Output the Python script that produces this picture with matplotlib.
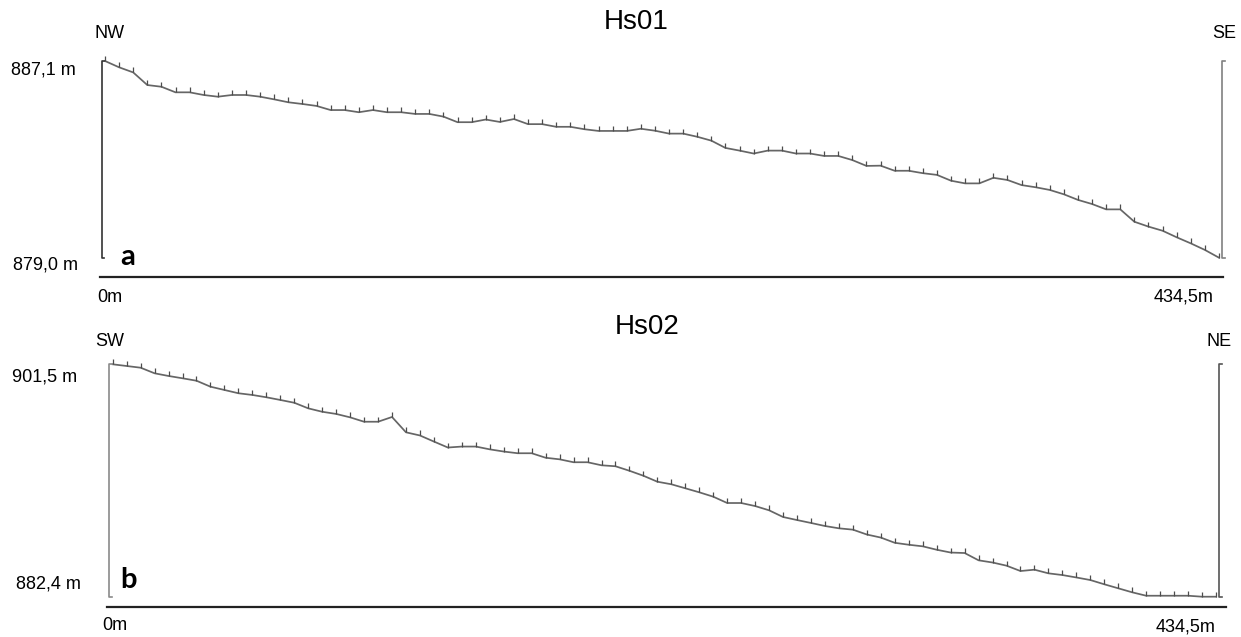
import numpy as np
import matplotlib
matplotlib.use("Agg")
import matplotlib.pyplot as plt
from matplotlib.markers import TICKUP

plt.rcParams['font.family'] = ['Liberation Sans', 'DejaVu Sans']

# stations every 5.5 m along both transects (80 points, 0 - 434.5 m)
step = 5.5
dist = np.arange(80) * step

# Hs01 profile, NW -> SE (elevation in m)
elev_a = [887.10, 886.84, 886.63, 886.11, 886.04, 885.81, 885.81, 885.70, 885.63, 885.70,
          885.70, 885.63, 885.52, 885.40, 885.33, 885.25, 885.08, 885.08, 884.99, 885.08,
          884.99, 884.99, 884.92, 884.92, 884.81, 884.58, 884.58, 884.69, 884.59, 884.71,
          884.50, 884.50, 884.39, 884.39, 884.29, 884.22, 884.22, 884.22, 884.31, 884.23,
          884.11, 884.11, 883.98, 883.82, 883.52, 883.41, 883.29, 883.41, 883.41, 883.29,
          883.29, 883.19, 883.19, 883.02, 882.78, 882.79, 882.58, 882.58, 882.48, 882.41,
          882.17, 882.06, 882.06, 882.29, 882.20, 881.99, 881.90, 881.79, 881.61, 881.38,
          881.21, 880.99, 880.99, 880.48, 880.28, 880.11, 879.84, 879.59, 879.32, 879.00]

# Hs02 profile, SW -> NE (elevation in m)
elev_b = [901.50, 901.36, 901.22, 900.76, 900.54, 900.35, 900.15, 899.66, 899.39, 899.12,
          898.98, 898.79, 898.57, 898.34, 897.88, 897.60, 897.42, 897.14, 896.78, 896.78,
          897.17, 895.91, 895.65, 895.15, 894.66, 894.74, 894.74, 894.51, 894.33, 894.19,
          894.19, 893.82, 893.69, 893.45, 893.45, 893.20, 893.12, 892.75, 892.34, 891.85,
          891.64, 891.31, 890.98, 890.62, 890.10, 890.10, 889.85, 889.50, 888.95, 888.70,
          888.46, 888.21, 888.02, 887.91, 887.51, 887.26, 886.83, 886.67, 886.54, 886.26,
          886.03, 885.99, 885.39, 885.21, 884.95, 884.51, 884.62, 884.32, 884.18, 883.98,
          883.77, 883.42, 883.09, 882.76, 882.48, 882.48, 882.48, 882.48, 882.40, 882.40]

names = ["Hs01", "Hs02"]
ends = [("NW", "SE"), ("SW", "NE")]
top_labels = ["887,1 m", "901,5 m"]
bottom_labels = ["879,0 m", "882,4 m"]
letters = ["a", "b"]
length_labels = ["0m", "434,5m"]

W, H = 1241, 637
fig = plt.figure(figsize=(W / 100, H / 100), dpi=100)
fs = 13


def box(x0, y0, x1, y1):
    return [x0 / W, 1 - y1 / H, (x1 - x0) / W, (y1 - y0) / H]


def txt(x, y, s, **kw):
    fig.text(x / W, 1 - y / H, s, **kw)


def profile(ax, elev, base_y, base_x, left_col, right_col):
    lo, hi = min(elev), max(elev)
    ax.set_xlim(dist[0], dist[-1])
    ax.set_ylim(lo, hi)
    ax.axis('off')
    ax.plot(dist, elev, color='#666666', lw=1.25, clip_on=False,
            marker=TICKUP, ms=3.4, mec='#4d4d4d', mew=0.9)
    # elevation range brackets at both ends
    d = 1.0
    xl, xr = dist[0] - 1.3, dist[-1] + 1.3
    ax.plot([xl + d, xl, xl, xl + d], [hi, hi, lo, lo], color=left_col,
            lw=1.2, clip_on=False)
    ax.plot([xr + d, xr, xr, xr + d], [hi, hi, lo, lo], color=right_col,
            lw=1.2, clip_on=False)
    # distance baseline
    ax.plot(base_x, [base_y, base_y], color='#222222', lw=1.6,
            transform=ax.transAxes, clip_on=False)


ax_a = fig.add_axes(box(105, 61, 1219, 257.7))
profile(ax_a, elev_a, -0.098, [-0.0045, 1.0036], '#333333', '#808080')

ax_b = fig.add_axes(box(112.7, 364.3, 1216, 596.7))
profile(ax_b, elev_b, -0.044, [-0.0052, 1.009], '#8a8a8a', '#555555')

# panel a texts
txt(636, 22, names[0], fontsize=20, ha='center', va='center')
txt(95, 33, ends[0][0], fontsize=fs, ha='left', va='center')
txt(1236, 33, ends[0][1], fontsize=fs, ha='right', va='center')
txt(76, 70, top_labels[0], fontsize=fs, ha='right', va='center')
txt(78, 265, bottom_labels[0], fontsize=fs, ha='right', va='center')
txt(120, 257, letters[0], fontsize=21, fontweight='bold', family='Lato',
    ha='left', va='center')
txt(97, 298, length_labels[0], fontsize=fs, ha='left', va='center')
txt(1214, 297, length_labels[1], fontsize=fs, ha='right', va='center')

# panel b texts
txt(647, 327, names[1], fontsize=20, ha='center', va='center')
txt(95, 342, ends[1][0], fontsize=fs, ha='left', va='center')
txt(1232, 342, ends[1][1], fontsize=fs, ha='right', va='center')
txt(77, 377, top_labels[1], fontsize=fs, ha='right', va='center')
txt(81, 584, bottom_labels[1], fontsize=fs, ha='right', va='center')
txt(120, 580, letters[1], fontsize=21, fontweight='bold', family='Lato',
    ha='left', va='center')
txt(102, 626, length_labels[0], fontsize=fs, ha='left', va='center')
txt(1215, 627, length_labels[1], fontsize=fs, ha='right', va='center')

fig.savefig("out.png", dpi=100, facecolor='white')
